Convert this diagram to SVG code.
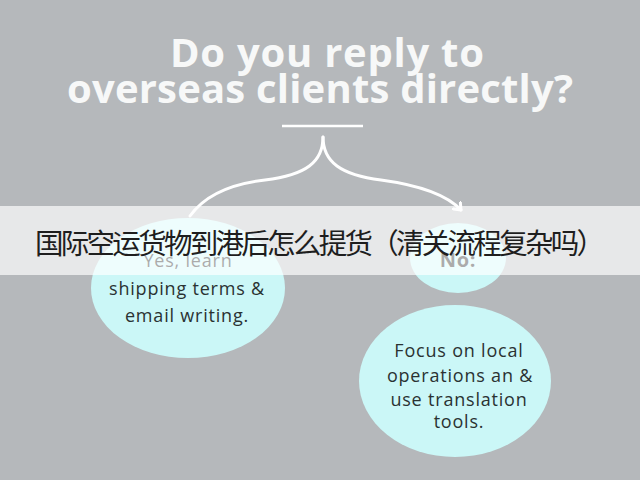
<svg xmlns="http://www.w3.org/2000/svg" width="640" height="480" viewBox="0 0 640 480">
<defs>
<style>
.title{font-family:"Open Sans","DejaVu Sans",sans-serif;font-weight:bold;font-size:40px;fill:#f7f8f8;text-anchor:middle}
.node{fill:#cbf7f7}
.t{font-family:"Open Sans","DejaVu Sans",sans-serif;font-size:18px;letter-spacing:0.8px;fill:#2a3232;text-anchor:middle}
.conn{fill:none;stroke:#ffffff;stroke-width:3;stroke-linecap:round}
.cn{font-family:"Noto Sans CJK SC","Noto Sans CJK JP",sans-serif;font-size:28.5px;fill:#1e1e1e}
</style>
<marker id="ah" markerWidth="12" markerHeight="12" refX="7" refY="6" orient="auto" markerUnits="userSpaceOnUse">
<path d="M0,0.5 L7,6 L0,11.5" fill="none" stroke="#ffffff" stroke-width="3" stroke-linecap="round" stroke-linejoin="round"/>
</marker>
</defs>
<rect width="640" height="480" fill="#b5b8bb"/>
<g id="title">
<text class="title" x="327" y="67" textLength="314" lengthAdjust="spacing">Do you reply to</text>
<text class="title" x="320" y="103" textLength="506" lengthAdjust="spacing">overseas clients directly?</text>
<line x1="282" y1="126" x2="363" y2="126" stroke="#ffffff" stroke-width="2.5"/>
</g>
<g id="connectors">
<path class="conn" d="M323,137 C323,162 306,175 265,180 C230,184 205,195 190,216"/>
<path class="conn" d="M323,137 C323,162 341,175 381,180 C418,185 446,194 461,210" marker-end="url(#ah)"/>
</g>
<g id="yes">
<ellipse class="node" cx="188" cy="288" rx="97" ry="70"/>
<text class="t" x="188" y="267" style="fill:#000">Yes, learn</text>
<text class="t" x="187" y="295">shipping terms &amp;</text>
<text class="t" x="187" y="322">email writing.</text>
</g>
<g id="no">
<ellipse class="node" cx="458" cy="258" rx="48" ry="35"/>
<text class="t" x="458" y="267" style="fill:#000;font-weight:bold;font-size:20px">No:</text>
</g>
<g id="focus">
<ellipse class="node" cx="455" cy="381" rx="96" ry="76"/>
<text class="t" x="459" y="357">Focus on local</text>
<text class="t" x="460" y="382">operations an &amp;</text>
<text class="t" x="459" y="406">use translation</text>
<text class="t" x="459" y="428">tools.</text>
</g>
<g id="banner">
<rect x="0" y="206" width="640" height="69" fill="#ffffff" fill-opacity="0.67"/>
<text class="cn" x="35" y="254" textLength="570" lengthAdjust="spacing">国际空运货物到港后怎么提货（清关流程复杂吗）</text>
</g>
</svg>
